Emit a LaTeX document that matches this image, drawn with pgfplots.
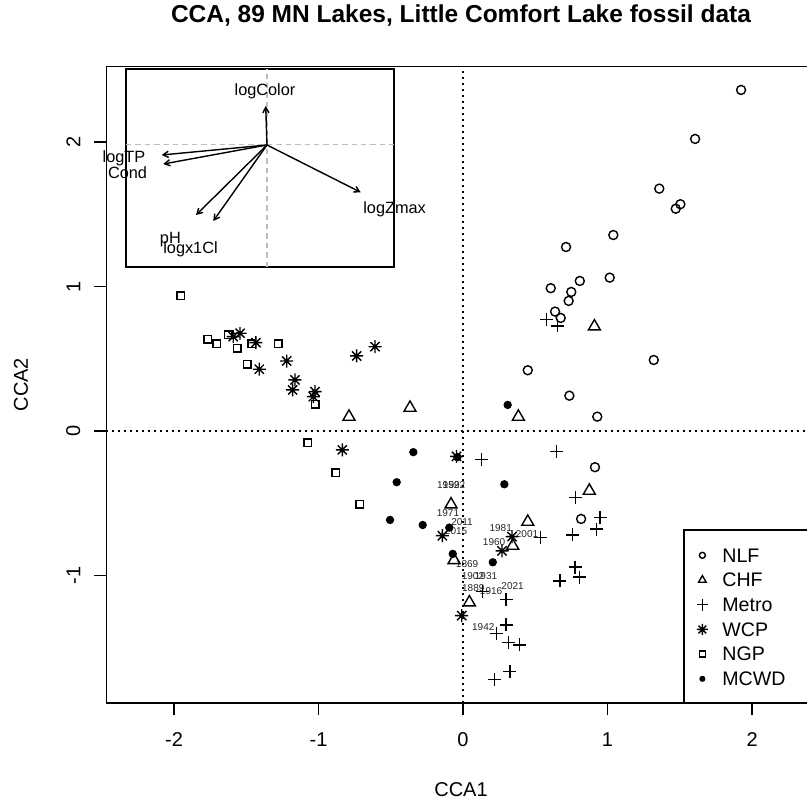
\documentclass[border=0pt]{standalone}
\usepackage{fontspec}
\setmainfont{Liberation Sans}
\usepackage{pgfplots}
\pgfplotsset{compat=1.18}
\usetikzlibrary{arrows.meta}
\definecolor{rgrey}{RGB}{190,190,190}

\pgfdeclareplotmark{rstar}{%
  \pgfpathmoveto{\pgfqpoint{-\pgfplotmarksize}{0pt}}%
  \pgfpathlineto{\pgfqpoint{\pgfplotmarksize}{0pt}}%
  \pgfpathmoveto{\pgfqpoint{0pt}{-\pgfplotmarksize}}%
  \pgfpathlineto{\pgfqpoint{0pt}{\pgfplotmarksize}}%
  \pgfpathmoveto{\pgfqpoint{-0.7071\pgfplotmarksize}{-0.7071\pgfplotmarksize}}%
  \pgfpathlineto{\pgfqpoint{0.7071\pgfplotmarksize}{0.7071\pgfplotmarksize}}%
  \pgfpathmoveto{\pgfqpoint{-0.7071\pgfplotmarksize}{0.7071\pgfplotmarksize}}%
  \pgfpathlineto{\pgfqpoint{0.7071\pgfplotmarksize}{-0.7071\pgfplotmarksize}}%
  \pgfusepathqstroke}
\pgfdeclareplotmark{emptymark}{}

\pgfplotsset{
  legmark/.style={legend image code/.code={%
      \path[draw=none, fill=none] (-4pt,-2pt) rectangle (4pt,2pt);
      \draw[##1, mark size=#1] plot coordinates {(0pt,0pt)};}},
}

\begin{document}
\begin{tikzpicture}
\useasboundingbox (-53.25pt,-50.5pt) rectangle (350.25pt,351.5pt);
\begin{axis}[
  at={(0pt,0pt)}, anchor=south west,
  width=354.5pt, height=318.3pt, scale only axis,
  xmin=-2.467, xmax=2.439, ymin=-1.883, ymax=2.523,
  clip=false,
  axis line style={line width=0.8pt},
  xtick={-2,-1,0,1,2}, xticklabels={-2,-1,0,1,2},
  ytick={-1,0,1,2}, yticklabels={-1,0,1,2},
  xtick pos=left, ytick pos=left,
  tick align=outside, major tick length=6.2pt,
  tick style={line width=0.8pt, black},
  every tick label/.append style={font=\fontsize{10}{12}\selectfont},
  xticklabel style={anchor=north, inner sep=0pt, yshift=-8.6pt},
  yticklabel style={xshift=-6.65pt, rotate=90, anchor=south, inner sep=0pt},
  xlabel={CCA1}, ylabel={CCA2},
  label style={font=\fontsize{10}{12}\selectfont},
  xlabel style={at={(axis description cs:0.5,-0.1367)}, anchor=center},
  ylabel style={at={(axis description cs:-0.1206,0.5)}, anchor=center},
  legend style={draw=none, fill=none, at={(rel axis cs:0.8286,0.252)}, anchor=north west,
    inner sep=0pt, row sep=0pt, column sep=0pt, font=\fontsize{9.8}{11}\selectfont,
    nodes={inner xsep=6pt, inner ysep=0pt, minimum height=12.35pt, text depth=0pt}},
  legend cell align=left,
  every axis plot/.append style={line width=0.7pt},
]
% zero lines
\addplot[forget plot, black, line width=0.6pt, dash pattern=on 1pt off 2pt] coordinates {(0,-1.883) (0,2.523)};
\addplot[forget plot, black, line width=0.6pt, dash pattern=on 1pt off 2pt] coordinates {(-2.467,0) (2.439,0)};

% fossil sample years
\addplot[forget plot, only marks, mark=emptymark, nodes near coords={\pgfplotspointmeta},
  point meta=explicit symbolic,
  every node near coord/.append style={anchor=center, inner sep=0pt, font=\fontsize{5}{6}\selectfont, text=black!85}]
  table[meta=lab] {
x y lab
-0.102 -0.374 1952
-0.062 -0.374 1992
-0.104 -0.571 1971
-0.007 -0.630 2011
-0.048 -0.692 2015
0.028 -0.920 1869
0.069 -1.007 1902
0.159 -1.003 1931
0.071 -1.090 1889
0.194 -1.105 1916
0.343 -1.073 2021
0.140 -1.354 1942
0.261 -0.669 1981
0.443 -0.713 2001
0.215 -0.772 1960
};

% NLF
\addplot[black, only marks, mark=o, mark size=2.25pt, legmark=1.5pt] table {
x y
1.924 2.360
1.606 2.021
1.358 1.677
1.504 1.569
1.472 1.538
1.040 1.356
0.713 1.273
0.808 1.038
1.015 1.061
0.607 0.988
0.749 0.962
0.731 0.900
0.637 0.826
0.676 0.782
1.320 0.491
0.448 0.420
0.736 0.244
0.929 0.099
0.913 -0.251
0.817 -0.609
};
\addlegendentry{NLF}

% CHF
\addplot[black, only marks, mark=triangle, mark size=3.45pt, legmark=2.2pt] table {
x y
0.909 0.723
0.383 0.098
0.874 -0.414
-0.789 0.098
-0.367 0.160
-0.083 -0.509
0.448 -0.629
0.344 -0.795
-0.062 -0.894
0.044 -1.187
};
\addlegendentry{CHF}

% Metro
\addplot[black, only marks, mark=+, mark size=3.25pt, legmark=2.9pt] table {
x y
0.579 0.773
0.653 0.727
0.647 -0.142
0.780 -0.459
0.948 -0.600
0.925 -0.680
0.756 -0.720
0.775 -0.943
0.805 -1.012
0.671 -1.038
0.129 -0.196
0.538 -0.736
0.136 -1.112
0.298 -1.165
0.298 -1.343
0.233 -1.400
0.313 -1.465
0.390 -1.481
0.325 -1.664
0.218 -1.720
};
\addlegendentry{Metro}

% WCP
\addplot[black, only marks, mark=rstar, mark size=3.25pt, legmark=2.75pt] table {
x y
-1.543 0.676
-1.590 0.653
-1.433 0.611
-1.220 0.484
-1.410 0.427
-1.163 0.353
-1.179 0.284
-1.024 0.272
-1.036 0.237
-0.736 0.519
-0.609 0.583
-0.835 -0.131
-0.045 -0.176
-0.143 -0.725
0.339 -0.731
0.270 -0.830
-0.009 -1.278
};
\addlegendentry{WCP}

% NGP
\addplot[black, only marks, mark=square, mark size=1.9pt, legmark=1.5pt] table {
x y
-1.952 0.936
-1.767 0.635
-1.705 0.602
-1.624 0.664
-1.562 0.572
-1.462 0.602
-1.278 0.602
-1.493 0.462
-1.024 0.185
-1.075 -0.081
-0.881 -0.289
-0.713 -0.507
};
\addlegendentry{NGP}

% MCWD
\addplot[black, fill=black, only marks, mark=*, mark size=1.72pt, legmark=1.15pt] table {
x y
0.309 0.180
-0.344 -0.147
-0.039 -0.182
-0.459 -0.355
0.286 -0.369
-0.505 -0.616
-0.279 -0.651
-0.095 -0.669
-0.071 -0.851
0.206 -0.909
};
\addlegendentry{MCWD}

\draw[line width=0.7pt] (rel axis cs:0.8145,0) rectangle (rel axis cs:1,0.2718);
\node[font=\bfseries\fontsize{12.25}{14}\selectfont] at (rel axis cs:0.5,1.0792)
  {CCA, 89 MN Lakes, Little Comfort Lake fossil data};
\end{axis}

% inset biplot of environmental variables
\begin{axis}[
  at={(9.75pt,218pt)}, anchor=south west,
  width=134pt, height=99pt, scale only axis,
  xmin=-1.41, xmax=1.27, ymin=-1.22, ymax=0.76,
  xtick=\empty, ytick=\empty,
  axis line style={line width=0.7pt},
  clip=false,
  axis background/.style={fill=white},
  every axis plot/.append style={line width=0.7pt},
]
\addplot[rgrey, dash pattern=on 2.7pt off 2pt] coordinates {(0,-1.22) (0,0.76)};
\addplot[rgrey, dash pattern=on 2.7pt off 2pt] coordinates {(-1.41,0.007) (1.27,0.007)};
\addplot[black, -{Straight Barb[length=2.7pt,width=3.1pt]}] coordinates {(0,0) (-0.013,0.39)};
\addplot[black, -{Straight Barb[length=2.7pt,width=3.1pt]}] coordinates {(0,0) (-1.053,-0.10)};
\addplot[black, -{Straight Barb[length=2.7pt,width=3.1pt]}] coordinates {(0,0) (-1.037,-0.19)};
\addplot[black, -{Straight Barb[length=2.7pt,width=3.1pt]}] coordinates {(0,0) (-0.71,-0.70)};
\addplot[black, -{Straight Barb[length=2.7pt,width=3.1pt]}] coordinates {(0,0) (-0.537,-0.76)};
\addplot[black, -{Straight Barb[length=2.7pt,width=3.1pt]}] coordinates {(0,0) (0.937,-0.473)};
\begin{scope}[every node/.style={font=\fontsize{8.15}{9.5}\selectfont, inner sep=0pt, anchor=center}]
\node at (axis cs:-0.02,0.54) {logColor};
\node at (axis cs:-1.43,-0.13) {logTP};
\node at (axis cs:-1.395,-0.273) {Cond};
\node at (axis cs:-0.966,-0.95) {pH};
\node at (axis cs:-0.765,-1.04) {logx1Cl};
\node at (axis cs:1.276,-0.64) {logZmax};
\end{scope}
\end{axis}
\end{tikzpicture}
\end{document}
